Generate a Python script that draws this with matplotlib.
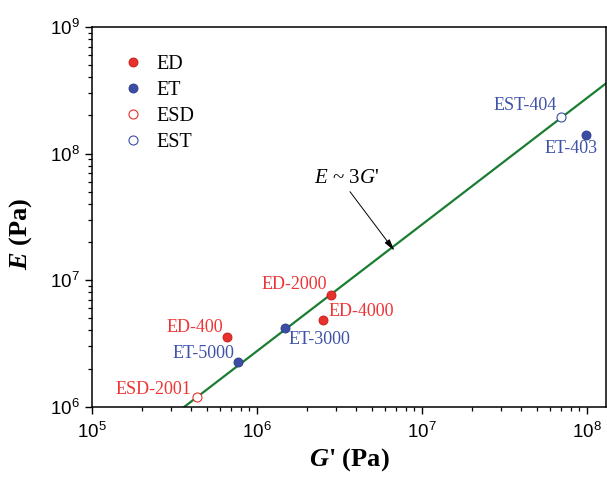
import matplotlib
matplotlib.use("Agg")
from matplotlib import pyplot as plt

# G' (Pa) and E (Pa)
ed_g = [6.6e5, 2.8e6, 2.5e6]
ed_e = [3.57e6, 7.6e6, 4.8e6]
ed_names = ["ED-400", "ED-2000", "ED-4000"]

et_g = [7.7e5, 1.47e6, 9.8e7]
et_e = [2.25e6, 4.17e6, 1.41e8]
et_names = ["ET-5000", "ET-3000", "ET-403"]

esd_g = [4.3e5]
esd_e = [1.19e6]
esd_names = ["ESD-2001"]

est_g = [7.0e7]
est_e = [1.96e8]
est_names = ["EST-404"]

# E ~ 3G' guide line
fit_g = [3.0e5, 2.0e8]
fit_ratio = 2.75

plt.rcParams['font.family'] = 'Liberation Sans'
plt.rcParams['mathtext.fontset'] = 'custom'
plt.rcParams['mathtext.rm'] = 'Liberation Serif'
plt.rcParams['mathtext.it'] = 'Liberation Serif:italic'
plt.rcParams['mathtext.bf'] = 'Liberation Serif:bold'
plt.rcParams['mathtext.bfit'] = 'Liberation Serif:italic:bold'

RED = '#e8302c'
BLUE = '#3b4ea3'
RED_TXT = '#ee3535'
BLUE_TXT = '#3f52a8'
SERIF = 'Liberation Serif'

fig = plt.figure(figsize=(6.07, 4.79), dpi=100)
ax = fig.add_axes([0.1516, 0.151, 0.8464, 0.7926])

ax.plot(fit_g, [fit_ratio * g for g in fit_g], color='#1b7d33', lw=1.6, zorder=1)

ax.plot(ed_g, ed_e, 'o', ms=6.5, mfc=RED, mec='#c01c1c', mew=0.6, label='ED', zorder=3)
ax.plot(et_g, et_e, 'o', ms=6.5, mfc=BLUE, mec='#283a85', mew=0.6, label='ET', zorder=3)
ax.plot(esd_g, esd_e, 'o', ms=6.5, mfc='white', mec=RED, mew=0.8, label='ESD', zorder=3)
ax.plot(est_g, est_e, 'o', ms=6.5, mfc='white', mec=BLUE, mew=0.8, label='EST', zorder=3)

# label placement (pixels from the point, alignment)
offsets = {
    "ED-400": (-4, 9, 'right'),
    "ED-2000": (-4, 11, 'right'),
    "ED-4000": (6, 9, 'left'),
    "ET-5000": (-4, 9, 'right'),
    "ET-3000": (4, -11, 'left'),
    "ET-403": (-14, -14, 'center'),
    "ESD-2001": (-5, 8, 'right'),
    "EST-404": (-5, 11, 'right'),
}

for gs, es, names, col in [(ed_g, ed_e, ed_names, RED_TXT), (et_g, et_e, et_names, BLUE_TXT),
                           (esd_g, esd_e, esd_names, RED_TXT), (est_g, est_e, est_names, BLUE_TXT)]:
    for g, e, name in zip(gs, es, names):
        dx, dy, ha = offsets[name]
        ax.annotate(name, (g, e), xytext=(dx, dy), textcoords='offset pixels',
                    ha=ha, va='center', color=col, fontsize=13, family=SERIF)

ax.text(3.5e6, 6.4e7, r"$E$ ~ 3$G$'", fontsize=15, family=SERIF, ha='center', va='center')
ax.annotate('', xy=(6.8e6, 1.71e7), xytext=(3.66e6, 5.0e7),
            arrowprops=dict(arrowstyle='-|>,head_length=0.7,head_width=0.18', color='black',
                            lw=0.7, shrinkA=0, shrinkB=0))

ax.set_xscale('log')
ax.set_yscale('log')
ax.set_xlim(1e5, 1.3e8)
ax.set_ylim(1e6, 1e9)

for s in ax.spines.values():
    s.set_linewidth(1.1)
ax.tick_params(which='major', direction='out', length=5, width=1.0, labelsize=13.5,
               top=False, right=False)
ax.tick_params(which='minor', direction='out', length=3, width=0.9, top=False, right=False)
ax.tick_params(axis='x', which='major', pad=6)
ax.tick_params(axis='y', which='major', pad=4)

ax.set_xlabel(r"$\mathbfit{G}$' (Pa)", family=SERIF, fontweight='bold', fontsize=19)
ax.set_ylabel(r"$\mathbfit{E}$ (Pa)", family=SERIF, fontweight='bold', fontsize=19)
ax.xaxis.set_label_coords(0.501, -0.105)
ax.yaxis.set_label_coords(-0.113, 0.456)

leg = ax.legend(loc='upper left', bbox_to_anchor=(0.061, 0.927), frameon=False,
                prop={'family': SERIF, 'size': 14.5}, handlelength=1.0, handletextpad=0.65,
                labelspacing=0.35, borderpad=0, borderaxespad=0, numpoints=1)

plt.savefig('out.png', dpi=100)
